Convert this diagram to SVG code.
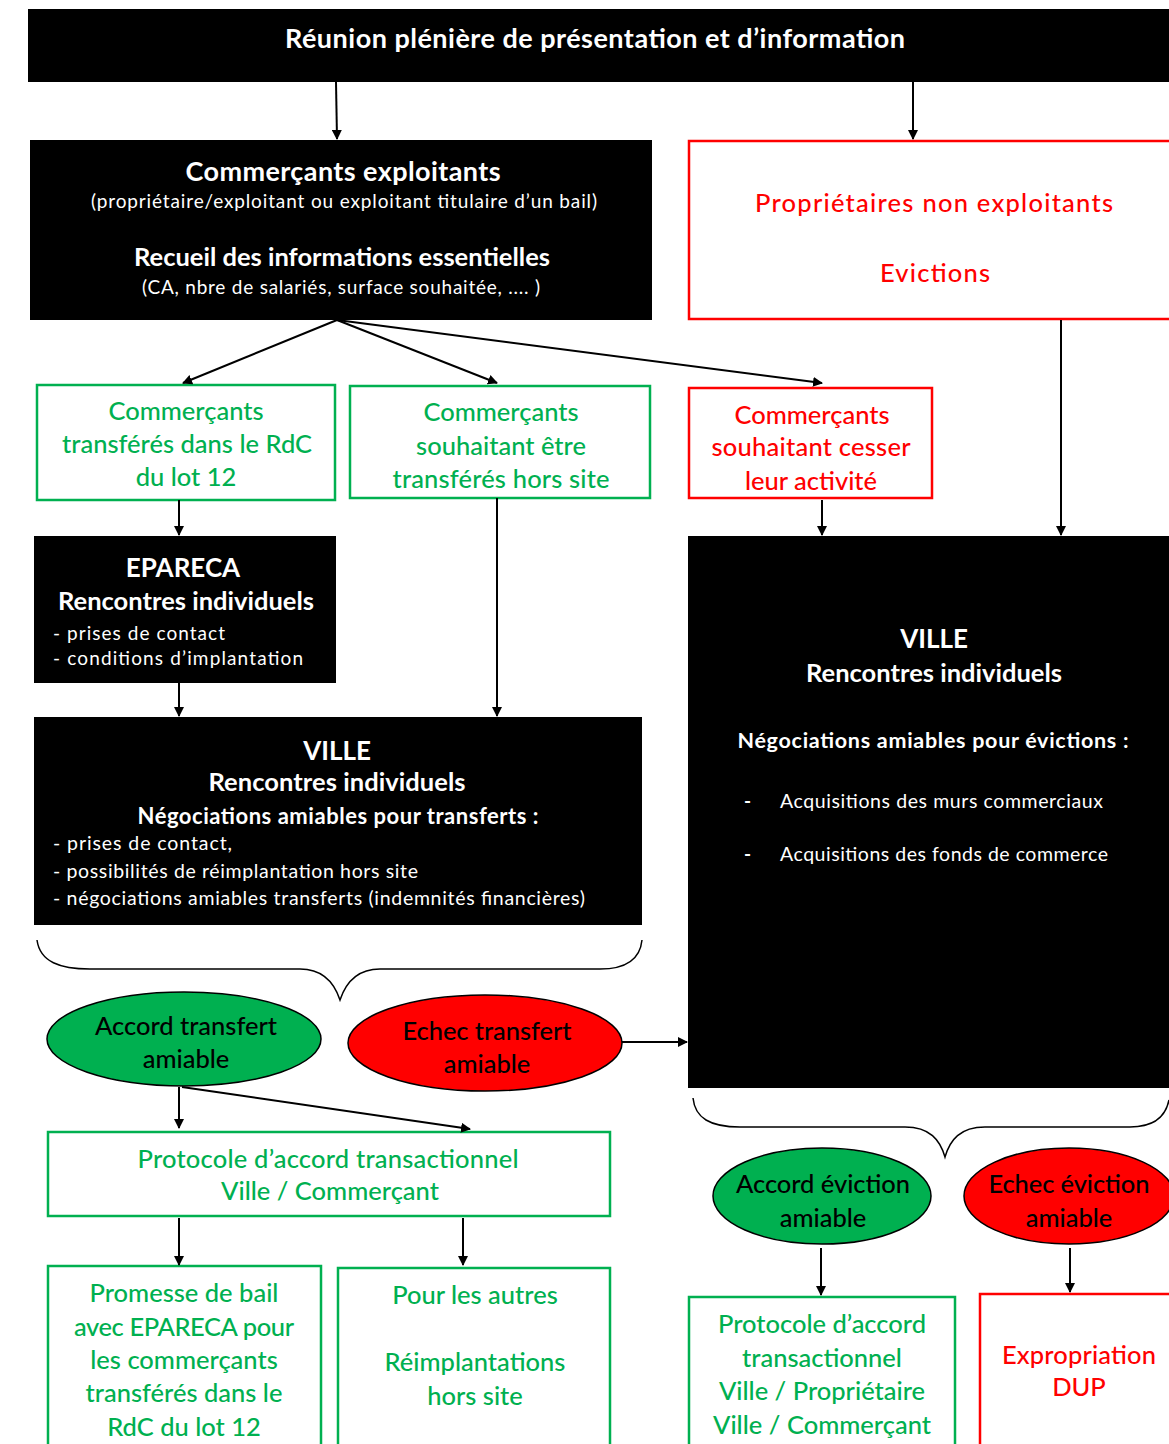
<svg xmlns="http://www.w3.org/2000/svg" width="1169" height="1444" viewBox="0 0 1169 1444">
<defs>
<marker id="ah" viewBox="0 0 10 10" refX="9" refY="5" markerWidth="10" markerHeight="10" markerUnits="userSpaceOnUse" orient="auto">
<path d="M0,0 L10,5 L0,10 z" fill="#000"/>
</marker>
<style>
text{font-family:Lato,"Liberation Sans",sans-serif;dominant-baseline:central}
.c{text-anchor:middle}
.w{fill:#fff}
.b{font-weight:bold}
.m{font-weight:500}
.g{fill:#00B050;font-weight:500}
.r{fill:#FF0000;font-weight:500}
.k{fill:#000;font-weight:500}
.blk{fill:#000}
.gbox{fill:#fff;stroke:#00B050;stroke-width:2.5}
.rbox{fill:#fff;stroke:#FF0000;stroke-width:2.5}
.con{fill:none;stroke:#000;stroke-width:2;marker-end:url(#ah)}
.brace{fill:none;stroke:#000;stroke-width:1.5}
</style>
</defs>
<rect width="1169" height="1444" fill="#fff"/>

<g id="header">
<rect class="blk" x="28" y="9" width="1145" height="73"/>
<text class="c w b" x="595" y="37" font-size="27" textLength="620">Réunion plénière de présentation et d’information</text>
</g>

<g id="commercants-exploitants">
<rect class="blk" x="30" y="140" width="622" height="180"/>
<text class="c w b" x="343" y="170" font-size="27" textLength="315">Commerçants exploitants</text>
<text class="c w" x="344" y="200" font-size="19" textLength="506">(propriétaire/exploitant ou exploitant titulaire d’un bail)</text>
<text class="c w b" x="342" y="256" font-size="25.5" textLength="416">Recueil des informations essentielles</text>
<text class="c w" x="341" y="286" font-size="19" textLength="398">(CA, nbre de salariés, surface souhaitée, .... )</text>
</g>

<g id="proprietaires">
<rect class="rbox" x="689" y="141" width="490" height="178"/>
<text class="c r" x="934" y="202" font-size="25.5" textLength="358">Propriétaires non exploitants</text>
<text class="c r" x="935" y="272" font-size="25.5" textLength="110">Evictions</text>
</g>

<g id="transferes-rdc">
<rect class="gbox" x="37" y="385" width="298" height="115"/>
<text class="c g" x="186" y="410" font-size="25.5">Commerçants</text>
<text class="c g" x="187" y="443" font-size="25.5" textLength="250">transférés dans le RdC</text>
<text class="c g" x="186" y="476" font-size="25.5">du lot 12</text>
</g>

<g id="transferes-hors-site">
<rect class="gbox" x="350" y="386" width="300" height="112"/>
<text class="c g" x="501" y="411" font-size="25.5">Commerçants</text>
<text class="c g" x="501" y="445" font-size="25.5">souhaitant être</text>
<text class="c g" x="501" y="478" font-size="25.5" textLength="217">transférés hors site</text>
</g>

<g id="cesser-activite">
<rect class="rbox" x="689" y="388" width="243" height="110"/>
<text class="c r" x="812" y="414" font-size="25.5">Commerçants</text>
<text class="c r" x="811" y="446" font-size="25.5" textLength="199">souhaitant cesser</text>
<text class="c r" x="811" y="480" font-size="25.5">leur activité</text>
</g>

<g id="epareca">
<rect class="blk" x="34" y="536" width="302" height="147"/>
<text class="c w b" x="183" y="567" font-size="26">EPARECA</text>
<text class="c w b" x="186" y="600" font-size="25.5" textLength="256">Rencontres individuels</text>
<text class="w" x="53" y="632" font-size="19" textLength="172">-  prises de contact</text>
<text class="w" x="53" y="657" font-size="19" textLength="250">-  conditions d’implantation</text>
</g>

<g id="ville-transferts">
<rect class="blk" x="34" y="717" width="608" height="208"/>
<text class="c w b" x="337" y="750" font-size="26">VILLE</text>
<text class="c w b" x="337" y="781" font-size="25.5" textLength="257">Rencontres individuels</text>
<text class="c w b" x="338" y="815" font-size="22" textLength="401">Négociations amiables pour transferts :</text>
<text class="w" x="53" y="842" font-size="19.5" textLength="179">-  prises de contact,</text>
<text class="w" x="53" y="870" font-size="19.5" textLength="365">-  possibilités de réimplantation hors site</text>
<text class="w" x="53" y="897" font-size="19.5" textLength="532">-  négociations amiables transferts (indemnités financières)</text>
</g>

<g id="ville-evictions">
<rect class="blk" x="688" y="536" width="485" height="552"/>
<text class="c w b" x="934" y="638" font-size="26">VILLE</text>
<text class="c w b" x="934" y="672" font-size="25.5" textLength="256">Rencontres individuels</text>
<text class="c w b" x="933" y="740" font-size="21.5" textLength="391">Négociations amiables pour évictions :</text>
<text class="w b" x="744" y="800" font-size="19">-</text>
<text class="w" x="780" y="800" font-size="19.5" textLength="323">Acquisitions des murs commerciaux</text>
<text class="w b" x="744" y="853" font-size="19">-</text>
<text class="w" x="780" y="853" font-size="19.5" textLength="328">Acquisitions des fonds de commerce</text>
</g>

<g id="accord-transfert">
<ellipse cx="184" cy="1039" rx="137" ry="47" fill="#00B050" stroke="#000" stroke-width="1.5"/>
<text class="c k" x="186" y="1025" font-size="25.5" textLength="182">Accord transfert</text>
<text class="c k" x="186" y="1058" font-size="25.5">amiable</text>
</g>

<g id="echec-transfert">
<ellipse cx="485" cy="1043" rx="137" ry="48" fill="#FF0000" stroke="#000" stroke-width="1.5"/>
<text class="c k" x="487" y="1030" font-size="25.5" textLength="169">Echec transfert</text>
<text class="c k" x="487" y="1063" font-size="25.5">amiable</text>
</g>

<g id="protocole-commercant">
<rect class="gbox" x="48" y="1132" width="562" height="84"/>
<text class="c g" x="328" y="1158" font-size="25.5" textLength="381">Protocole d’accord transactionnel</text>
<text class="c g" x="330" y="1190" font-size="25.5">Ville / Commerçant</text>
</g>

<g id="promesse-bail">
<rect class="gbox" x="48" y="1266" width="273" height="190"/>
<text class="c g" x="184" y="1292" font-size="25.5">Promesse de bail</text>
<text class="c g" x="184" y="1326" font-size="25.5" textLength="220">avec EPARECA pour</text>
<text class="c g" x="184" y="1359" font-size="25.5">les commerçants</text>
<text class="c g" x="184" y="1392" font-size="25.5">transférés dans le</text>
<text class="c g" x="184" y="1426" font-size="25.5">RdC du lot 12</text>
</g>

<g id="autres">
<rect class="gbox" x="338" y="1268" width="272" height="190"/>
<text class="c g" x="475" y="1294" font-size="25.5">Pour les autres</text>
<text class="c g" x="475" y="1361" font-size="25.5">Réimplantations</text>
<text class="c g" x="475" y="1395" font-size="25.5">hors site</text>
</g>

<g id="accord-eviction">
<ellipse cx="822" cy="1196" rx="109" ry="48" fill="#00B050" stroke="#000" stroke-width="1.5"/>
<text class="c k" x="823" y="1183" font-size="25.5" textLength="174">Accord éviction</text>
<text class="c k" x="823" y="1217" font-size="25.5">amiable</text>
</g>

<g id="echec-eviction">
<ellipse cx="1069" cy="1196" rx="105" ry="48" fill="#FF0000" stroke="#000" stroke-width="1.5"/>
<text class="c k" x="1069" y="1183" font-size="25.5" textLength="161">Echec éviction</text>
<text class="c k" x="1069" y="1217" font-size="25.5">amiable</text>
</g>

<g id="protocole-proprietaire">
<rect class="gbox" x="689" y="1297" width="266" height="160"/>
<text class="c g" x="822" y="1323" font-size="25.5">Protocole d’accord</text>
<text class="c g" x="822" y="1357" font-size="25.5">transactionnel</text>
<text class="c g" x="822" y="1390" font-size="25.5">Ville / Propriétaire</text>
<text class="c g" x="822" y="1424" font-size="25.5" textLength="218">Ville / Commerçant</text>
</g>

<g id="expropriation">
<rect class="rbox" x="980" y="1294" width="200" height="160"/>
<text class="c r" x="1079" y="1354" font-size="25.5" textLength="154">Expropriation</text>
<text class="c r" x="1079" y="1386" font-size="25.5">DUP</text>
</g>

<g id="connectors">
<line class="con" x1="336" y1="82" x2="337" y2="139"/>
<line class="con" x1="913" y1="82" x2="913" y2="139"/>
<line class="con" x1="337" y1="320" x2="183" y2="383"/>
<line class="con" x1="337" y1="320" x2="497" y2="383"/>
<line class="con" x1="337" y1="320" x2="822" y2="383"/>
<line class="con" x1="179" y1="500" x2="179" y2="535"/>
<line class="con" x1="497" y1="498" x2="497" y2="716"/>
<line class="con" x1="822" y1="500" x2="822" y2="535"/>
<line class="con" x1="1061" y1="320" x2="1061" y2="535"/>
<line class="con" x1="179" y1="683" x2="179" y2="716"/>
<line class="con" x1="622" y1="1042" x2="687" y2="1042"/>
<line class="con" x1="179" y1="1087" x2="179" y2="1128"/>
<line class="con" x1="182" y1="1087" x2="470" y2="1129"/>
<line class="con" x1="179" y1="1218" x2="179" y2="1265"/>
<line class="con" x1="463" y1="1218" x2="463" y2="1265"/>
<line class="con" x1="821" y1="1248" x2="821" y2="1295"/>
<line class="con" x1="1070" y1="1248" x2="1070" y2="1292"/>
<path class="brace" d="M37,940 C40,962 60,969 90,969 L300,969 C325,969 335,985 340,1000 C345,985 355,969 380,969 L600,969 C625,969 640,960 642,940"/>
<path class="brace" d="M693,1098 C695,1118 710,1127 740,1127 L905,1127 C930,1127 940,1140 945,1157 C950,1140 960,1127 985,1127 L1130,1127 C1155,1127 1166,1115 1169,1100"/>
</g>
</svg>
